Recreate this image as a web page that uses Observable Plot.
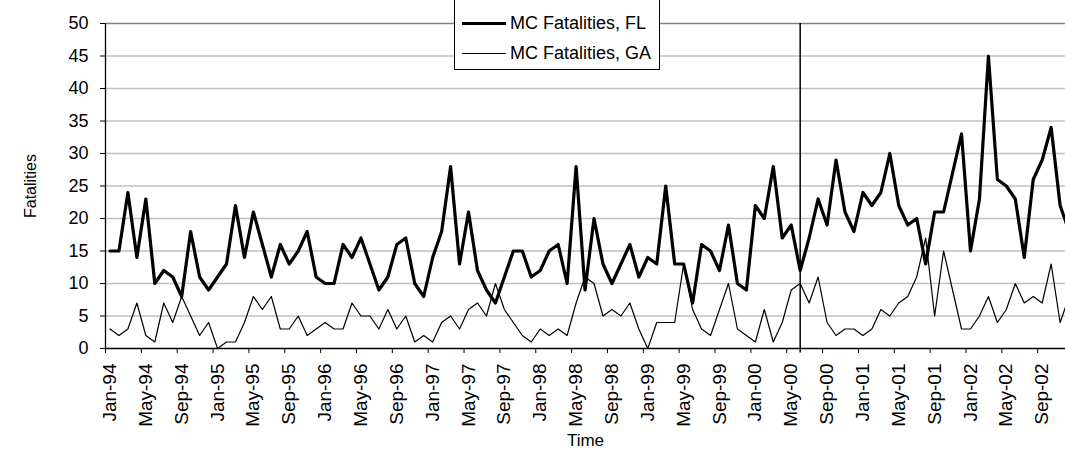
<!DOCTYPE html>
<html><head><meta charset="utf-8">
<script src="https://cdn.jsdelivr.net/npm/d3@7"></script>
<script src="https://cdn.jsdelivr.net/npm/@observablehq/plot@0.6"></script>
<style>
body{margin:0;background:#fff;font-family:"Liberation Sans",Arial,sans-serif}
#wrap{position:relative;width:1065px;height:454px;overflow:hidden}
#legend{position:absolute;left:454px;top:-2px;width:206px;height:72px;border:1px solid #000;background:#fff;box-sizing:border-box;font-size:18px;color:#000}
.item{position:absolute;left:7px;display:flex;align-items:center;white-space:nowrap}
.swatch{width:44px;height:0;border-top-style:solid;border-top-color:#000;margin-right:4px}
</style></head>
<body><div id="wrap"></div>
<script>
const monthAbbr = ["Jan","Feb","Mar","Apr","May","Jun","Jul","Aug","Sep","Oct","Nov","Dec"];
const years = ["94","95","96","97","98","99","00","01","02"];
const months = years.flatMap(y => monthAbbr.map(m => `${m}-${y}`));

const flFatalities = [15,15,24,14,23,10,12,11,8,18,11,9,
  11,13,22,14,21,16,11,16,13,15,18,11,
  10,10,16,14,17,13,9,11,16,17,10,8,
  14,18,28,13,21,12,9,7,11,15,15,11,
  12,15,16,10,28,9,20,13,10,13,16,11,
  14,13,25,13,13,7,16,15,12,19,10,9,
  22,20,28,17,19,12,17,23,19,29,21,18,
  24,22,24,30,22,19,20,13,21,21,27,33,
  15,23,45,26,25,23,14,26,29,34,22,18];
const gaFatalities = [3,2,3,7,2,1,7,4,8,5,2,4,
  0,1,1,4,8,6,8,3,3,5,2,3,
  4,3,3,7,5,5,3,6,3,5,1,2,
  1,4,5,3,6,7,5,10,6,4,2,1,
  3,2,3,2,7,11,10,5,6,5,7,3,
  0,4,4,4,13,6,3,2,6,10,3,2,
  1,6,1,4,9,10,7,11,4,2,3,3,
  2,3,6,5,7,8,11,17,5,15,9,3,
  3,5,8,4,6,10,7,8,7,13,4,8];
const tickLabels = ["Jan-94","May-94","Sep-94","Jan-95","May-95","Sep-95","Jan-96","May-96","Sep-96","Jan-97","May-97","Sep-97","Jan-98","May-98","Sep-98","Jan-99","May-99","Sep-99","Jan-00","May-00","Sep-00","Jan-01","May-01","Sep-01","Jan-02","May-02","Sep-02"];
const yTicks = [0,5,10,15,20,25,30,35,40,45,50];
const eventMonth = ["Jun-00"];
const seriesNames = ["MC Fatalities, FL","MC Fatalities, GA"];

const fl = months.map((m,i)=>({i, v: flFatalities[i]}));
const ga = months.map((m,i)=>({i, v: gaFatalities[i]}));
const labelPos = tickLabels.map(t => months.indexOf(t));
const boundaries = labelPos.map(p => p - 0.5);
const eventPos = eventMonth.map(t => months.indexOf(t));

const chart = Plot.plot({
  width: 1065, height: 454,
  marginLeft: 105, marginRight: 0, marginTop: 23, marginBottom: 106,
  style: {fontFamily: '"Liberation Sans", Arial, sans-serif', background: "#fff", color: "#000"},
  x: {type: "linear", domain: [-0.5, 106.6]},
  y: {domain: [0, 50]},
  marks: [
    Plot.ruleY(yTicks.filter(d => d > 0 && d < 50), {stroke: "#c0c0c0", strokeWidth: 1.3}),
    Plot.ruleY([50], {stroke: "#808080", strokeWidth: 1.3}),
    Plot.ruleX(eventPos, {y1: -0.7, y2: 50, stroke: "#000", strokeWidth: 1.5, clip: false}),
    Plot.line(ga, {x: "i", y: "v", stroke: "#000", strokeWidth: 1.2, clip: true}),
    Plot.line(fl, {x: "i", y: "v", stroke: "#000", strokeWidth: 3.2, clip: true}),
    Plot.ruleX([-0.5], {stroke: "#000", strokeWidth: 1.3}),
    Plot.ruleY([0], {stroke: "#000", strokeWidth: 1.3}),
    Plot.axisY({ticks: yTicks, tickSize: 5, tickPadding: 12, fontSize: 18, label: null}),
    Plot.axisX(boundaries, {tickSize: 5, tickFormat: () => "", label: null}),
    Plot.axisX(labelPos, {tickSize: 0, tickPadding: 15, tickRotate: -90, fontSize: 19, tickFormat: p => months[p], label: null}),
    Plot.text(["Fatalities"], {frameAnchor: "left", textAnchor: "middle", dx: -75, rotate: -90, fontSize: 16}),
    Plot.text(["Time"], {frameAnchor: "bottom", textAnchor: "middle", dy: 97, fontSize: 17})
  ]
});
const wrap = document.getElementById("wrap");
wrap.appendChild(chart);
const lg = document.createElement("div");
lg.id = "legend";
lg.innerHTML = seriesNames.map((n,k)=>`<div class="item" style="top:${k===0?14:44}px"><span class="swatch" style="border-top-width:${k===0?3.5:1.3}px"></span><span>${n}</span></div>`).join("");
wrap.appendChild(lg);
</script>
</body></html>
